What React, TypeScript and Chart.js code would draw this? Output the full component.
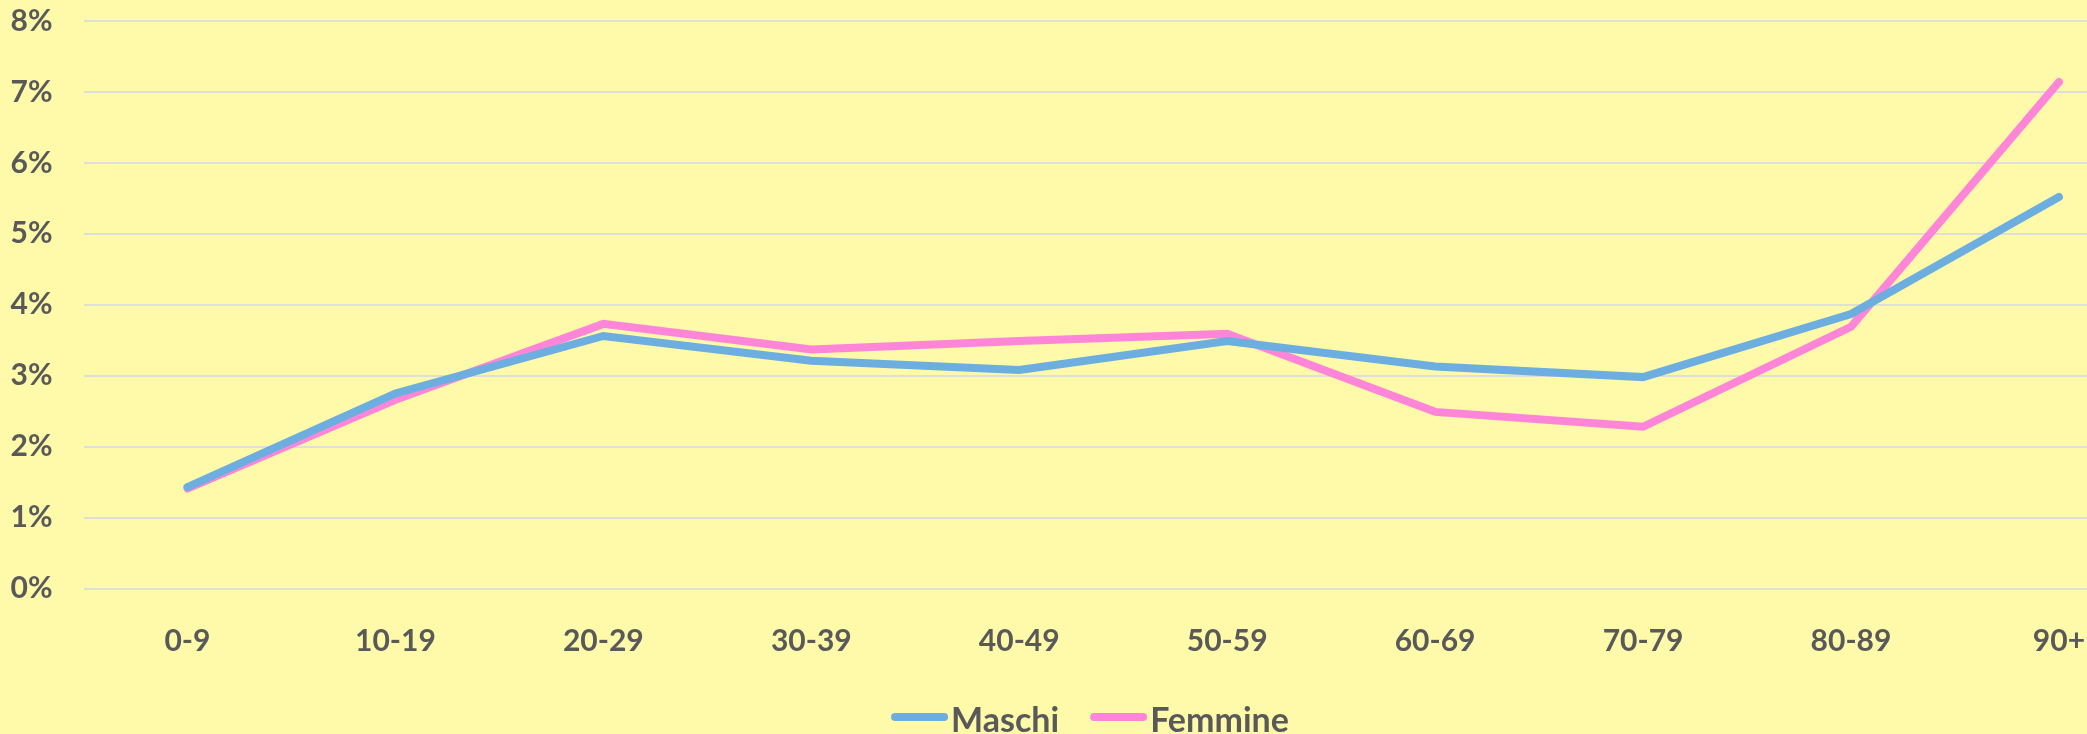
import React, { useEffect, useRef } from "react";
import { Chart, registerables } from "chart.js";

Chart.register(...registerables);

const categories = ["0-9", "10-19", "20-29", "30-39", "40-49", "50-59", "60-69", "70-79", "80-89", "90+"];
const maschi = [1.43, 2.75, 3.56, 3.21, 3.08, 3.49, 3.13, 2.98, 3.87, 5.52];
const femmine = [1.41, 2.66, 3.73, 3.37, 3.49, 3.59, 2.49, 2.28, 3.69, 7.14];
const yTicks = [0, 1, 2, 3, 4, 5, 6, 7, 8];

const BG = "#FEFAAA";
const TEXT = "#595959";
const BLUE = "#6CAEE0";
const PINK = "#FF85D8";
const FONT = "Lato";

const legendPlugin = {
  id: "customLegend",
  afterDraw(chart: any) {
    const ctx = chart.ctx;
    ctx.save();
    ctx.font = `bold 34px ${FONT}`;
    const lineW = 57;
    const gapText = 3;
    const gapItems = 31;
    const items = chart.data.datasets.map((ds: any) => ({
      label: ds.label,
      color: ds.borderColor,
      tw: ctx.measureText(ds.label).width,
    }));
    let total = 0;
    items.forEach((it: any, i: number) => {
      total += lineW + gapText + it.tw + (i < items.length - 1 ? gapItems : 0);
    });
    let x = 1090 - total / 2;
    const yLine = 717;
    const yText = 732;
    items.forEach((it: any) => {
      ctx.strokeStyle = it.color;
      ctx.lineWidth = 8;
      ctx.lineCap = "round";
      ctx.beginPath();
      ctx.moveTo(x + 4, yLine);
      ctx.lineTo(x + lineW - 4, yLine);
      ctx.stroke();
      ctx.fillStyle = TEXT;
      ctx.textBaseline = "alphabetic";
      ctx.textAlign = "left";
      ctx.fillText(it.label, x + lineW + gapText, yText);
      x += lineW + gapText + it.tw + gapItems;
    });
    ctx.restore();
  },
};

const bgPlugin = {
  id: "bg",
  beforeDraw(chart: any) {
    const ctx = chart.ctx;
    ctx.save();
    ctx.fillStyle = BG;
    ctx.fillRect(0, 0, chart.width, chart.height);
    ctx.restore();
  },
};

export default function App() {
  const ref = useRef<HTMLCanvasElement | null>(null);
  useEffect(() => {
    if (!ref.current) return;
    const chart = new Chart(ref.current, {
      type: "line",
      data: {
        datasets: [
          {
            label: "Maschi",
            data: maschi.map((v, i) => ({ x: i, y: v })),
            borderColor: BLUE,
            backgroundColor: BLUE,
            borderWidth: 8,
            pointRadius: 0,
            borderCapStyle: "round",
            tension: 0,
          },
          {
            label: "Femmine",
            data: femmine.map((v, i) => ({ x: i, y: v })),
            borderColor: PINK,
            backgroundColor: PINK,
            borderWidth: 8,
            pointRadius: 0,
            borderCapStyle: "round",
            tension: 0,
          },
        ],
      },
      options: {
        responsive: false,
        animation: false,
        devicePixelRatio: 1,
        layout: { padding: { top: 21, left: 0, right: 0, bottom: 0 } },
        plugins: {
          legend: { display: false },
          tooltip: { enabled: false },
        },
        scales: {
          x: {
            type: "linear",
            min: -0.5,
            max: 9.135,
            grid: { display: false, drawTicks: false },
            border: { display: false },
            afterBuildTicks: (axis: any) => {
              axis.ticks = categories.map((_, i) => ({ value: i }));
            },
            afterFit: (scale: any) => {
              scale.height = 734 - 588.5;
              scale.paddingLeft = 0;
              scale.paddingRight = 0;
            },
            ticks: {
              autoSkip: false,
              maxRotation: 0,
              padding: 35,
              color: TEXT,
              font: { family: FONT, size: 30, weight: "bold" },
              callback: (v: any) => categories[v as number] ?? "",
            },
          },
          y: {
            min: 0,
            max: 8,
            afterBuildTicks: (axis: any) => {
              axis.ticks = yTicks.map((v) => ({ value: v }));
            },
            afterFit: (scale: any) => {
              scale.width = 83.5;
              scale.paddingTop = 0;
              scale.paddingBottom = 0;
            },
            grid: { color: "#DEDEDA", lineWidth: 2, drawTicks: false },
            border: { display: false },
            ticks: {
              padding: 31,
              color: TEXT,
              font: { family: FONT, size: 30, weight: "bold" },
              callback: (v: any) => `${v}%`,
            },
          },
        },
      },
      plugins: [bgPlugin, legendPlugin],
    });
    return () => chart.destroy();
  }, []);
  return (
    <div style={{ position: "absolute", left: 0, top: 0, width: 2087, height: 734, background: BG }}>
      <canvas ref={ref} width={2087} height={734} style={{ display: "block" }} />
    </div>
  );
}
